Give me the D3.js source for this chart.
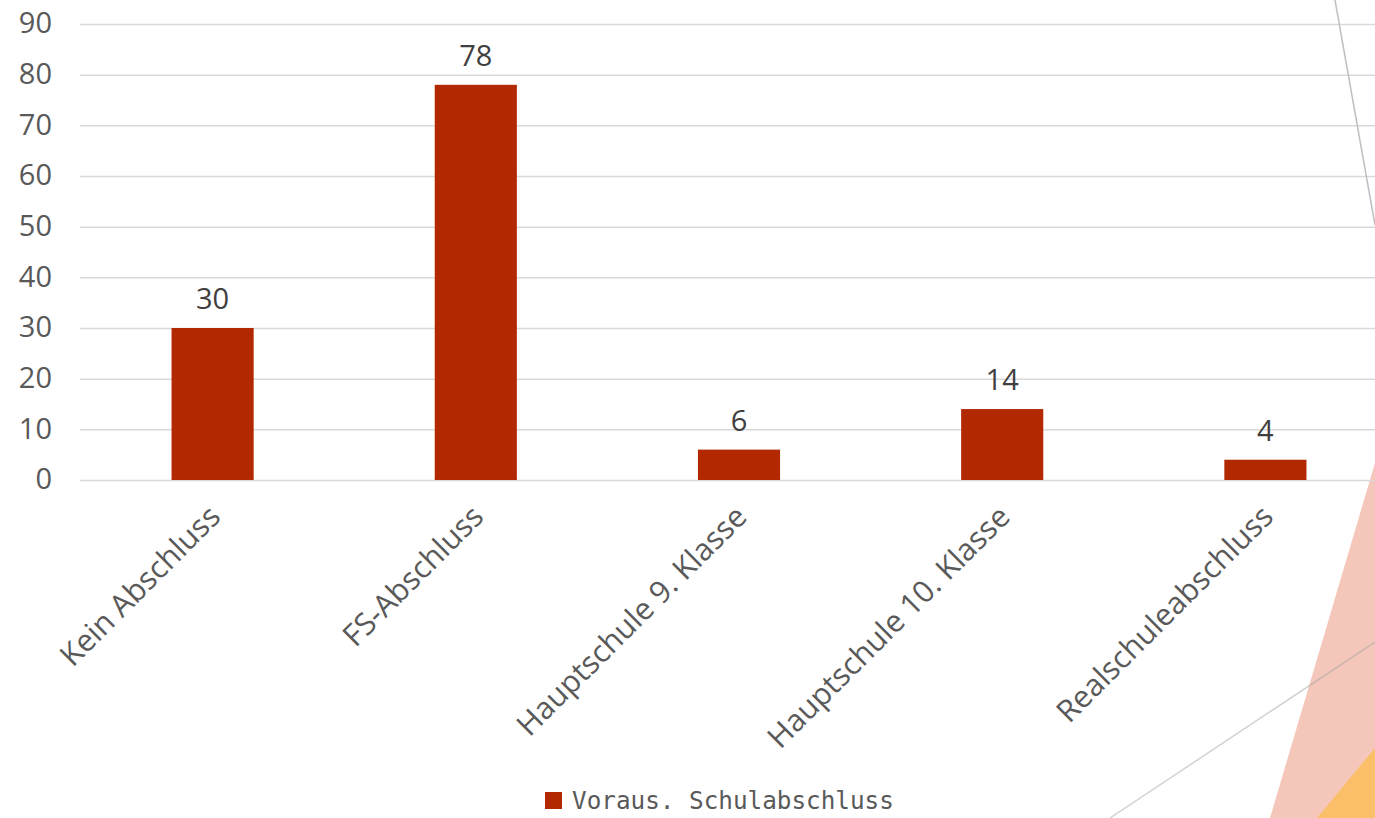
<!DOCTYPE html>
<html>
<head>
<meta charset="utf-8">
<script src="https://cdn.jsdelivr.net/npm/d3@7"></script>
<style>
  html, body { margin: 0; padding: 0; background: #fff; }
  svg { display: block; }
</style>
</head>
<body>
<svg id="chart"></svg>
<script>
const categories = ["Kein Abschluss", "FS-Abschluss", "Hauptschule 9. Klasse", "Hauptschule 10. Klasse", "Realschuleabschluss"];
const values = [30, 78, 6, 14, 4];
const yTicks = [0, 10, 20, 30, 40, 50, 60, 70, 80, 90];
const seriesName = "Voraus. Schulabschluss";

const width = 1375;
const height = 818;

const margin = ({ top: 24, right: -22, bottom: 338, left: 81 });

const barColor = "#b22800";
const textColor = "#595959";
const fontSize = 29;

// scales
let xScale = d3.scaleBand()
    .domain(categories)
    .range([margin.left, width - margin.right])
    .paddingInner(0.688)
    .paddingOuter(0.344);

let yScale = d3.scaleLinear()
    .domain([0, 90])
    .range([height - margin.bottom, margin.top]);

const svg = d3.select("#chart")
    .attr("width", width)
    .attr("height", height)
    .attr("viewBox", [0, 0, width, height]);

// background decoration (slide shapes)
svg.append("polygon")
    .attr("points", "1375,463 1270,818 1375,818")
    .attr("fill", "#f5c6ba");
svg.append("polygon")
    .attr("points", "1375,748 1317,818 1375,818")
    .attr("fill", "#fbbf6a");

// gridlines + y labels
yAxis = g => g
    .attr("transform", `translate(${margin.left - 1},0)`)
    .call(d3.axisLeft(yScale).tickValues(yTicks).tickSize(-(width - margin.left + 1)).tickPadding(28))
    .call(g => g.select(".domain").remove())
    .call(g => g.selectAll(".tick line").attr("stroke", "#d9d9d9").attr("stroke-width", 1.5))
    .call(g => g.selectAll(".tick text")
        .attr("fill", textColor)
        .attr("font-family", "'Open Sans', sans-serif")
        .attr("font-size", fontSize)
        .attr("dy", "0.3em"));

svg.append("g").call(yAxis);

// bars
svg.append("g")
    .selectAll("rect")
    .data(values)
    .enter()
    .append("rect")
    .attr("x", (d, i) => xScale(categories[i]))
    .attr("y", d => yScale(d))
    .attr("width", xScale.bandwidth())
    .attr("height", d => yScale(0) - yScale(d))
    .attr("fill", barColor);

// data labels
svg.append("g")
    .selectAll("text")
    .data(values)
    .enter()
    .append("text")
    .attr("x", (d, i) => xScale(categories[i]) + xScale.bandwidth() / 2)
    .attr("y", d => yScale(d) - 19)
    .attr("text-anchor", "middle")
    .attr("fill", "#404040")
    .attr("font-family", "'Open Sans', sans-serif")
    .attr("font-size", fontSize)
    .text(d => d);

// category labels
svg.append("g")
    .selectAll("text")
    .data(categories)
    .enter()
    .append("text")
    .attr("transform", d => `translate(${xScale(d) + xScale.bandwidth() / 2 + 2},${yScale(0) + 31}) rotate(-45)`)
    .attr("text-anchor", "end")
    .attr("dy", "0.35em")
    .attr("fill", textColor)
    .attr("font-family", "'Open Sans', sans-serif")
    .attr("font-size", 30.5)
    .text(d => d);

// decorative lines
svg.append("line")
    .attr("x1", 1335).attr("y1", 0).attr("x2", 1375).attr("y2", 225)
    .attr("stroke", "#bfbfbf").attr("stroke-width", 1.5);
svg.append("line")
    .attr("x1", 1110).attr("y1", 818).attr("x2", 1375).attr("y2", 642)
    .attr("stroke", "#a6a6a6").attr("stroke-opacity", 0.5).attr("stroke-width", 1.5);

// legend
const legend = svg.append("g").attr("transform", "translate(545,792)");
legend.append("rect")
    .attr("width", 17).attr("height", 17)
    .attr("fill", barColor);
legend.append("text")
    .attr("x", 27).attr("y", 17)
    .attr("fill", textColor)
    .attr("font-family", "'DejaVu Sans Mono', monospace")
    .attr("font-size", 24.3)
    .text(seriesName);
</script>
</body>
</html>
